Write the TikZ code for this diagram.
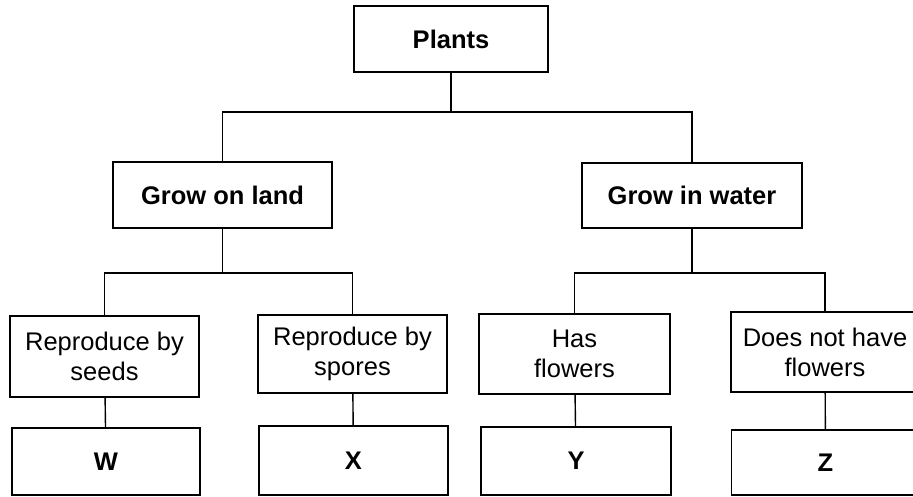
\documentclass[tikz,border=0pt]{standalone}
\usepackage{fontspec}
\setmainfont{Liberation Sans}
\begin{document}
\begin{tikzpicture}[x=1pt,y=-1pt,
  box/.style={draw,line width=1.4pt,inner sep=0pt,align=center,font=\fontsize{25.5}{30}\selectfont},
  bbox/.style={box,font=\fontsize{25.5}{30}\selectfont\bfseries},
  conn/.style={line width=1.4pt}]
\clip (0,0) rectangle (913,497);
\fill[white] (0,0) rectangle (913,497);
\node[bbox,minimum width=194pt,minimum height=66pt] (plants) at (451,39) {Plants};
\node[bbox,minimum width=219pt,minimum height=66pt] (land) at (222.5,195) {Grow on land};
\node[bbox,minimum width=220pt,minimum height=65pt] (water) at (692,195.5) {Grow in water};
\node[box,minimum width=189pt,minimum height=81pt] (seeds) at (104.5,356.5) {Reproduce by\\seeds};
\node[box,minimum width=189pt,minimum height=78pt] (spores) at (352.5,354) {Reproduce by\\spores};
\node[box,minimum width=191pt,minimum height=80pt] (hasfl) at (574.5,354) {Has\\flowers};
\node[box,minimum width=188pt,minimum height=80pt] (nofl) at (825,352) {Does not have\\flowers};
\node[bbox,minimum width=188pt,minimum height=67pt] (w) at (106,461.5) {W};
\node[bbox,minimum width=189pt,minimum height=69pt] (x) at (353.5,460.5) {X};
\node[bbox,minimum width=190pt,minimum height=68pt] (y) at (576,461) {Y};
\node[bbox,minimum width=188pt,minimum height=65pt] (z) at (825.5,462.5) {Z};
\coordinate (j1) at (451,112);
\coordinate (j2) at (222.5,273);
\coordinate (j3) at (692,273);
\draw[conn] (plants) -- (j1);
\draw[conn] (land) |- (j1) -| (water);
\draw[conn] (land) -- (j2);
\draw[conn] (seeds) |- (j2) -| (spores);
\draw[conn] (water) -- (j3);
\draw[conn] (hasfl) |- (j3) -| (nofl);
\draw[conn] (seeds) -- (w);
\draw[conn] (spores) -- (x);
\draw[conn] (hasfl) -- (y);
\draw[conn] (nofl) -- (z);
\end{tikzpicture}
\end{document}
